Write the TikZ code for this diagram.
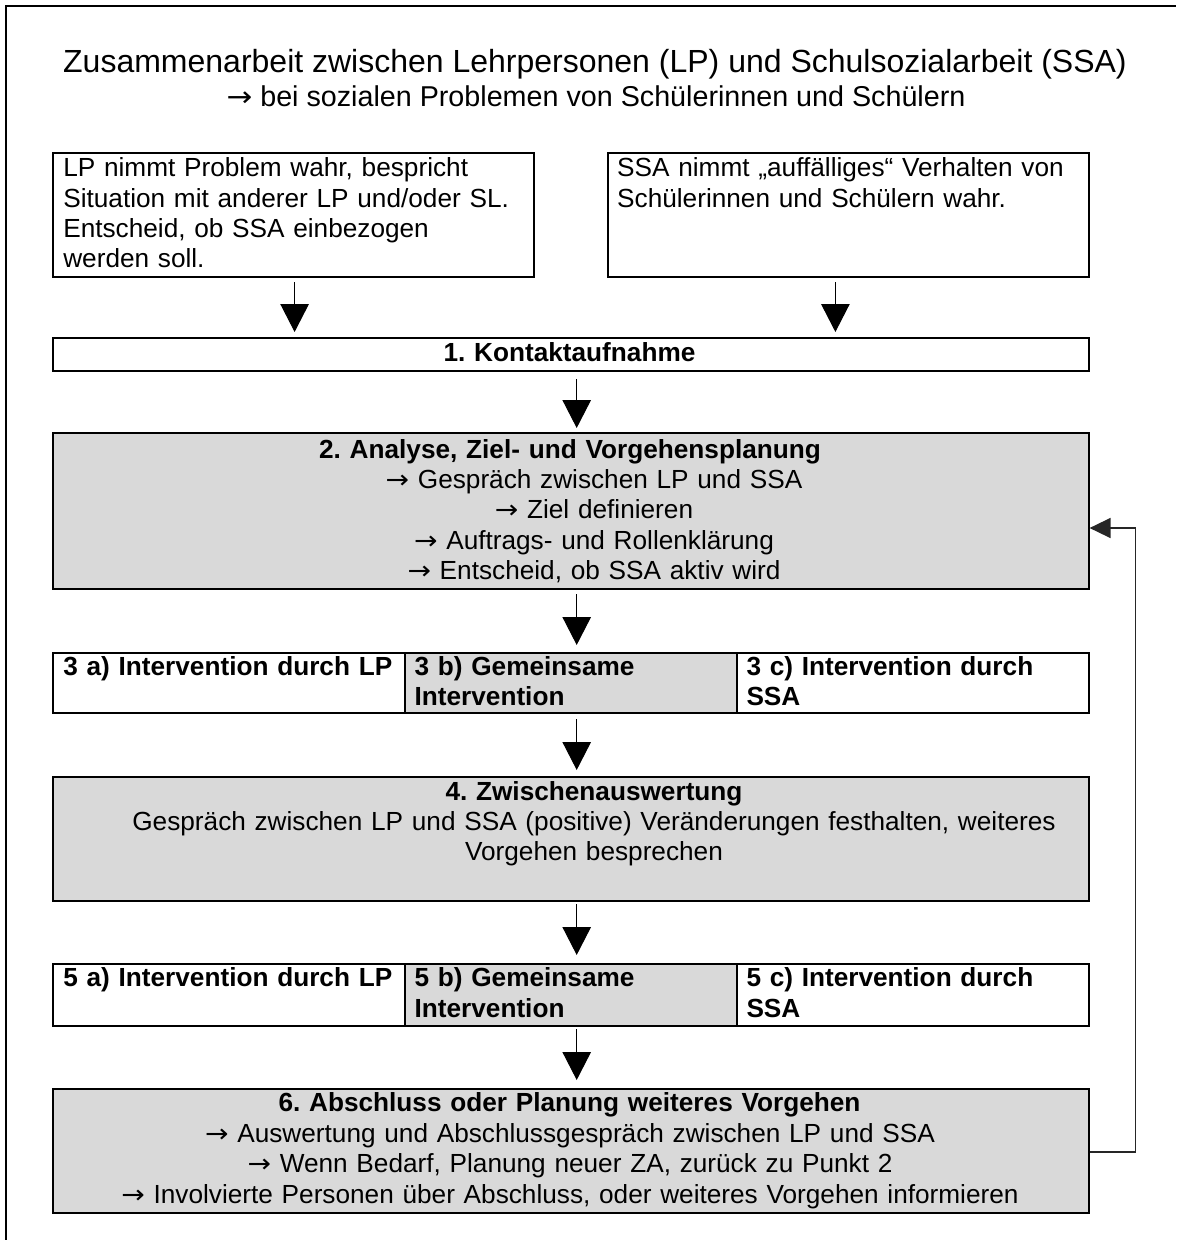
\documentclass[tikz,border=0pt]{standalone}
\usepackage{fontspec}
\setmainfont{Liberation Sans}
\newfontfamily\arrowfont{DejaVu Sans}
\usetikzlibrary{arrows.meta,calc}
\definecolor{boxgray}{RGB}{217,217,217}
\newcommand{\bodyfont}{\fontsize{26.2}{30.3}\selectfont}
\newcommand{\rarr}{\scalebox{1.1}[1]{\arrowfont\fontsize{25.5}{25.5}\selectfont →}}
\newcommand{\rarrbig}{\scalebox{1.1}[1]{\arrowfont\fontsize{28}{28}\selectfont →}}
\frenchspacing
\begin{document}
\begin{tikzpicture}[x=1pt,y=-1pt,
  box/.style={draw, line width=2pt, inner sep=0pt, anchor=north west},
  graybox/.style={box, fill=boxgray},
  txt/.style={inner sep=0pt, font=\bodyfont, anchor=base west, align=left, text width=#1},
  txt/.default=470pt,
  btxt/.style={txt=#1, font=\bodyfont\bfseries},
  btxt/.default=345pt,
  ctxt/.style={inner sep=0pt, font=\bodyfont, anchor=base, align=center, text width=1040pt},
  bctxt/.style={ctxt, font=\bodyfont\bfseries},
  arr/.style={line width=1pt, -{Triangle[length=28pt,width=28.5pt]}},
  fb/.style={line width=1.5pt, draw=black!85, -{Triangle[length=21pt,width=20pt]}},
  outerframe/.style={line width=2.5pt}]
\useasboundingbox (0,0) rectangle (1176,1240);
\draw[outerframe] (6,1240) -- (6,6) -- (1176,6);

% title
\node[inner sep=0pt, anchor=base, font=\fontsize{32}{37}\selectfont] (title) at (595,72.7)
  {Zusammenarbeit zwischen Lehrpersonen (LP) und Schulsozialarbeit (SSA)};
\node[inner sep=0pt, anchor=base, font=\fontsize{28.7}{33}\selectfont] (subtitle) at (596,106.7)
  {\rarrbig\ bei sozialen Problemen von Schülerinnen und Schülern};

% boxes
\node[box, minimum width=480.6pt, minimum height=124pt] (lp) at (52.4,152) {};
\node[box, minimum width=481pt, minimum height=124pt] (ssa) at (606.6,152) {};
\node[box, minimum width=1035.2pt, minimum height=33pt] (k1) at (52.4,337) {};
\node[graybox, minimum width=1035.2pt, minimum height=156pt] (b2) at (52.4,432) {};
\node[graybox, minimum width=332.3pt, minimum height=60pt] (b3b) at (403.7,652) {};
\node[box, minimum width=351.3pt, minimum height=60pt] (b3a) at (52.4,652) {};
\node[box, minimum width=351.6pt, minimum height=60pt] (b3c) at (736,652) {};
\node[graybox, minimum width=1035.2pt, minimum height=124pt] (b4) at (52.4,776) {};
\node[graybox, minimum width=332.3pt, minimum height=62pt] (b5b) at (403.7,963) {};
\node[box, minimum width=351.3pt, minimum height=62pt] (b5a) at (52.4,963) {};
\node[box, minimum width=351.6pt, minimum height=62pt] (b5c) at (736,963) {};
\node[graybox, minimum width=1035.2pt, minimum height=124pt] (b6) at (52.4,1088) {};

% texts
\node[txt] (tlp) at (63.1,176.7) {LP nimmt Problem wahr, bespricht\\Situation mit anderer LP und/oder SL.\\Entscheid, ob SSA einbezogen\\werden soll.};
\node[txt] (tssa) at (617,176.7) {SSA nimmt „auffälliges“ Verhalten von\\Schülerinnen und Schülern wahr.};
\node[bctxt] (tk1) at (569.5,361.7) {1. Kontaktaufnahme};
\node[bctxt] (tb2h) at (570,458.3) {2. Analyse, Ziel- und Vorgehensplanung};
\node[ctxt] (tb2) at (594,488.6) {\rarr\ Gespräch zwischen LP und SSA\\\rarr\ Ziel definieren\\\rarr\ Auftrags- und Rollenklärung\\\rarr\ Entscheid, ob SSA aktiv wird};
\node[btxt] (t3a) at (63.1,675) {3 a) Intervention durch LP};
\node[btxt] (t3b) at (414.4,675) {3 b) Gemeinsame\\Intervention};
\node[btxt] (t3c) at (746.3,675) {3 c) Intervention durch\\SSA};
\node[bctxt] (tb4h) at (594,800) {4. Zwischenauswertung};
\node[ctxt] (tb4) at (594,830.5) {Gespräch zwischen LP und SSA (positive) Veränderungen festhalten, weiteres\\Vorgehen besprechen};
\node[btxt] (t5a) at (63.1,986.7) {5 a) Intervention durch LP};
\node[btxt] (t5b) at (414.4,986.7) {5 b) Gemeinsame\\Intervention};
\node[btxt] (t5c) at (746.3,986.7) {5 c) Intervention durch\\SSA};
\node[bctxt] (tb6h) at (569.5,1111.7) {6. Abschluss oder Planung weiteres Vorgehen};
\node[ctxt] (tb6) at (570,1142.5) {\rarr\ Auswertung und Abschlussgespräch zwischen LP und SSA\\\rarr\ Wenn Bedarf, Planung neuer ZA, zurück zu Punkt 2\\\rarr\ Involvierte Personen über Abschluss, oder weiteres Vorgehen informieren};

% arrows
\coordinate (xL) at (294.6,0);
\coordinate (xR) at (835.4,0);
\coordinate (xM) at (576.7,0);
\draw[arr] ($(lp.south -| xL)+(0,4)$) -- ($(k1.north -| xL)+(0,-5)$);
\draw[arr] ($(ssa.south -| xR)+(0,4)$) -- ($(k1.north -| xR)+(0,-5)$);
\draw[arr] ($(k1.south -| xM)+(0,7)$) -- ($(b2.north -| xM)+(0,-4)$);
\draw[arr] ($(b2.south -| xM)+(0,4)$) -- ($(b3b.north -| xM)+(0,-7)$);
\draw[arr] ($(b3b.south -| xM)+(0,5)$) -- ($(b4.north -| xM)+(0,-6)$);
\draw[arr] ($(b4.south -| xM)+(0,2)$) -- ($(b5b.north -| xM)+(0,-8)$);
\draw[arr] ($(b5b.south -| xM)+(0,2)$) -- ($(b6.north -| xM)+(0,-8)$);

% feedback
\coordinate (fbx) at (1135.5,0);
\coordinate (fby1) at (0,1152);
\coordinate (fby2) at (0,528);
\draw[fb] (b6.east |- fby1) -| (fbx |- fby2) -- (b2.east |- fby2);
\end{tikzpicture}
\end{document}
